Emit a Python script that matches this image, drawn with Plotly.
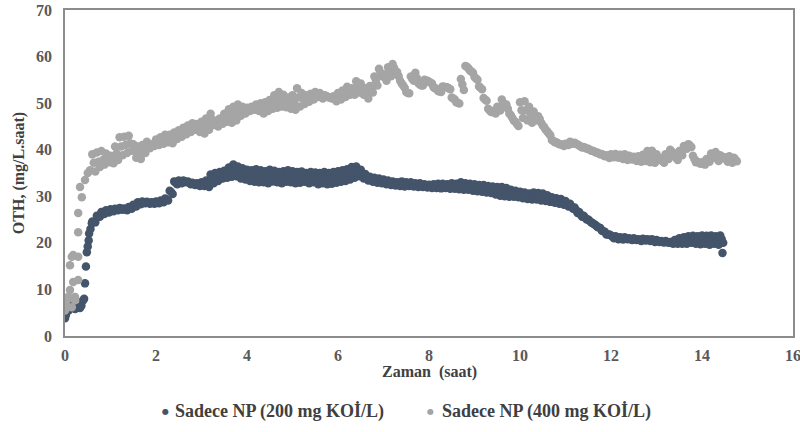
import numpy as np
import plotly.graph_objects as go

# ---------------- data ----------------
series_names = ["Sadece NP (200 mg KOİ/L)", "Sadece NP (400 mg KOİ/L)"]
colors = ["#44546A", "#A5A5A5"]

# Series 1 (200 mg) - early sparse points
s1_early_t = [0, 0.02, 0.04, 0.08, 0.12, 0.15, 0.18, 0.22, 0.26, 0.3, 0.33, 0.36, 0.4, 0.42,
              0.44, 0.46, 0.48, 0.5, 0.52, 0.53, 0.56, 0.59, 14.45]
s1_early_v = [3.8, 4.5, 6.2, 5.5, 7.5, 6.5, 7.0, 5.8, 6.0, 6.2, 6.0, 6.5, 7.7, 8.0,
              11.3, 14.9, 18.0, 19.2, 20.5, 22.0, 23.0, 24.2, 17.8]
# Series 1 main part, sampled every 0.1 h from 0.6 h: top, middle, bottom of the point cloud
s1_start = 0.6
s1_upper = [
    24.6, 25.8, 26.6, 27.0,
    27.2, 27.3, 27.5, 27.4, 27.7, 28.2, 28.7, 28.9, 28.8, 28.7,
    28.9, 29.1, 29.5, 31.2, 33.2, 33.4, 33.4, 33.2, 32.9, 32.8,
    33.0, 33.4, 34.7, 35.0, 35.2, 35.5, 36.2, 36.8, 36.4, 36.0,
    35.7, 35.6, 35.8, 35.6, 35.4, 35.7, 35.5, 35.2, 35.4, 35.6,
    35.4, 35.2, 35.3, 35.0, 35.2, 35.1, 35.0, 35.2, 35.0, 35.2,
    35.4, 35.6, 35.8, 36.3, 36.4, 35.7, 34.8, 34.2, 34.0, 33.8,
    33.6, 33.4, 33.2, 33.0, 33.2, 33.0, 33.0, 32.8, 32.8, 32.6,
    32.5, 32.6, 32.7, 32.7, 32.6, 32.8, 32.7, 33.0, 32.8, 32.7,
    32.6, 32.4, 32.4, 32.2, 32.1, 32.0, 32.0, 31.8, 31.4, 31.2,
    31.0, 30.8, 30.6, 30.8, 30.7, 30.6, 30.2, 29.8, 29.6, 29.4,
    29.0, 28.4, 27.6, 26.6, 25.8, 25.0, 24.2, 23.4, 22.6, 21.8,
    21.6, 21.4, 21.2, 21.2, 21.0, 21.0, 20.8, 20.9, 20.8, 20.8,
    20.6, 20.4, 20.4, 20.2, 20.6, 21.0, 21.2, 21.4, 21.5, 21.4,
    21.6, 21.5, 21.6, 21.4, 21.6,
]
s1_mid = [
    24.5, 25.7, 26.4, 26.8,
    27.0, 27.1, 27.3, 27.2, 27.5, 28.0, 28.5, 28.7, 28.6, 28.6,
    28.7, 28.9, 29.3, 30.9, 32.9, 33.1, 33.2, 32.9, 32.6, 32.5,
    32.6, 32.7, 33.7, 34.1, 34.5, 34.7, 35.2, 35.5, 35.1, 34.8,
    34.5, 34.4, 34.4, 34.3, 34.1, 34.4, 34.2, 34.0, 34.2, 34.3,
    34.1, 34.0, 34.2, 33.9, 34.1, 33.8, 33.9, 33.9, 33.8, 34.0,
    34.2, 34.4, 34.7, 35.1, 35.3, 34.7, 34.1, 33.6, 33.4, 33.3,
    33.1, 32.9, 32.7, 32.6, 32.6, 32.6, 32.5, 32.4, 32.4, 32.2,
    32.1, 32.2, 32.2, 32.2, 32.1, 32.2, 32.1, 32.2, 32.1, 32.0,
    31.9, 31.7, 31.6, 31.5, 31.3, 31.1, 31.0, 30.9, 30.7, 30.5,
    30.3, 30.1, 30.0, 30.0, 29.9, 29.8, 29.5, 29.2, 29.0, 28.8,
    28.4, 27.8, 27.0, 26.1, 25.4, 24.7, 24.0, 23.3, 22.5, 21.8,
    21.3, 21.1, 20.9, 21.0, 20.8, 20.8, 20.6, 20.7, 20.6, 20.5,
    20.4, 20.2, 20.2, 20.0, 20.2, 20.4, 20.5, 20.7, 20.6, 20.6,
    20.7, 20.6, 20.7, 20.5, 20.8,
]
s1_lower = [
    24.4, 25.6, 26.2, 26.5,
    26.8, 27.0, 27.1, 27.0, 27.3, 27.8, 28.3, 28.5, 28.4, 28.4,
    28.5, 28.7, 29.1, 30.5, 32.6, 32.8, 33.0, 32.6, 32.4, 32.2,
    32.2, 32.0, 32.8, 33.3, 33.8, 34.0, 34.2, 34.3, 33.8, 33.6,
    33.3, 33.1, 33.0, 33.0, 32.8, 33.2, 33.0, 32.8, 33.1, 33.0,
    32.8, 32.9, 33.1, 32.8, 33.0, 32.6, 32.8, 32.6, 32.7, 32.9,
    33.1, 33.3, 33.6, 34.0, 34.3, 33.8, 33.4, 33.1, 32.9, 32.8,
    32.6, 32.4, 32.3, 32.2, 32.1, 32.2, 32.1, 32.0, 32.0, 31.9,
    31.8, 31.8, 31.7, 31.8, 31.6, 31.6, 31.5, 31.4, 31.4, 31.2,
    31.1, 31.0, 30.8, 30.7, 30.4, 30.1, 30.0, 29.9, 29.9, 29.8,
    29.6, 29.4, 29.3, 29.3, 29.1, 29.0, 28.8, 28.6, 28.4, 28.2,
    27.8, 27.3, 26.4, 25.6, 25.0, 24.4, 23.8, 23.2, 22.4, 21.8,
    21.0, 20.8, 20.7, 20.8, 20.6, 20.6, 20.4, 20.5, 20.4, 20.2,
    20.2, 20.1, 20.0, 19.8, 19.8, 19.8, 19.8, 20.0, 19.8, 19.7,
    19.8, 19.6, 19.8, 19.6, 20.0,
]

# Series 2 (400 mg) - early sparse points
s2_early_t = [0, 0.02, 0.04, 0.04, 0.07, 0.11, 0.15, 0.22, 0.22, 0.18, 0.11, 0.15, 0.18, 0.29,
              0.29, 0.29, 0.29, 0.33, 0.37, 0.44, 0.5, 0.55]
s2_early_v = [5.5, 6.5, 7.7, 6.2, 8.4, 9.9, 6.2, 7.7, 8.4, 11.6, 15.2, 17.0, 17.4, 12.0,
              17.0, 22.3, 26.4, 32.0, 29.8, 33.5, 35.0, 35.6]
s2_start = 0.6
s2_upper = [
    39.0, 39.4, 39.7, 39.2,
    38.7, 40.7, 42.7, 42.8, 43.0, 41.2, 40.7, 41.0, 41.7, 41.2,
    42.2, 42.7, 43.2, 43.2, 43.7, 44.2, 44.7, 45.2, 45.7, 45.5,
    46.0, 46.7, 47.7, 46.2, 46.7, 47.7, 48.7, 49.2, 49.7, 49.2,
    49.0, 49.2, 49.7, 50.0, 50.2, 50.7, 51.7, 52.4, 51.8, 51.2,
    51.7, 53.2, 52.2, 51.7, 52.0, 52.4, 52.2, 51.7, 51.2, 51.5,
    52.2, 52.7, 53.5, 53.2, 54.7, 54.2, 53.2, 53.7, 55.7, 57.4,
    56.2, 57.7, 58.4, 56.7, 54.2, 52.4, 55.7, 56.5, 54.0, 55.0,
    54.6, 53.4, 52.6, 53.6, 53.4, 51.2, 50.2, 55.2, 58.0, 57.0,
    55.6, 53.6, 51.1, 48.8, 48.3, 49.2, 50.8, 49.7, 47.4, 46.0,
    50.2, 50.4, 49.2, 48.2, 47.2, 45.2, 43.9, 42.1, 41.6, 41.2,
    41.3, 41.7, 41.5, 40.9, 40.6, 40.2, 39.8, 39.4, 39.1, 38.8,
    39.0, 39.1, 38.9, 39.0, 38.7, 38.5, 38.6, 38.9, 39.7, 39.8,
    39.0, 38.2, 39.0, 40.0, 38.7, 39.7, 40.8, 41.2, 38.7, 37.4,
    37.3, 38.0, 39.2, 39.5, 38.8, 38.4, 38.6, 38.3,
]
s2_mid = [
    37.2, 37.4, 37.8, 37.9,
    37.9, 39.2, 40.7, 41.0, 41.4, 39.8, 39.4, 40.2, 41.0, 41.0,
    41.6, 42.0, 42.4, 42.3, 43.0, 43.5, 44.0, 44.5, 45.0, 44.7,
    44.8, 45.5, 46.5, 45.6, 46.2, 46.9, 47.3, 47.8, 48.5, 48.5,
    48.7, 48.9, 49.0, 48.9, 49.2, 49.7, 50.4, 50.9, 50.5, 50.0,
    50.2, 51.2, 51.0, 51.0, 51.4, 51.8, 51.6, 51.6, 51.2, 50.9,
    51.5, 52.0, 52.7, 52.5, 53.5, 53.0, 52.1, 53.0, 54.8, 56.6,
    55.5, 56.8, 57.6, 55.8, 53.8, 52.2, 55.2, 55.4, 53.8, 54.8,
    54.4, 53.2, 52.5, 53.5, 53.2, 51.0, 50.1, 54.0, 57.8, 56.8,
    55.3, 53.3, 50.8, 48.4, 48.0, 48.8, 50.0, 48.8, 46.8, 45.5,
    48.5, 48.5, 47.5, 47.4, 46.6, 44.8, 43.5, 41.9, 41.4, 41.0,
    41.2, 41.5, 41.3, 40.7, 40.4, 40.0, 39.6, 39.2, 38.8, 38.5,
    38.7, 38.7, 38.5, 38.4, 38.3, 38.0, 38.0, 38.3, 38.5, 38.5,
    38.4, 37.6, 38.5, 39.6, 38.2, 39.2, 40.5, 40.9, 38.0, 37.2,
    37.0, 37.7, 38.8, 38.5, 38.5, 37.9, 37.9, 37.9,
]
s2_lower = [
    35.3, 36.3, 36.8, 37.3,
    37.1, 37.8, 38.8, 39.3, 39.8, 38.3, 38.0, 39.3, 40.3, 40.8,
    41.0, 41.3, 41.6, 41.4, 42.3, 42.8, 43.3, 43.8, 44.3, 43.8,
    43.5, 44.3, 45.3, 45.0, 45.6, 46.0, 45.8, 46.3, 47.3, 47.8,
    48.3, 48.6, 48.3, 47.8, 48.3, 48.8, 49.0, 49.3, 49.1, 48.8,
    48.6, 49.3, 49.8, 50.3, 50.8, 51.3, 51.0, 51.4, 51.0, 50.4,
    50.8, 51.3, 51.8, 51.8, 52.3, 51.8, 51.0, 52.3, 53.8, 55.8,
    54.8, 55.8, 56.8, 54.8, 53.3, 52.1, 54.8, 54.3, 53.8, 54.8,
    54.2, 53.1, 52.4, 53.4, 53.0, 50.8, 49.9, 52.8, 57.5, 56.5,
    55.0, 53.0, 50.5, 48.1, 47.8, 48.4, 49.3, 47.8, 46.2, 45.1,
    46.8, 46.3, 45.8, 46.3, 45.8, 44.3, 43.1, 41.6, 41.2, 40.8,
    41.0, 41.3, 41.1, 40.5, 40.2, 39.8, 39.4, 39.0, 38.6, 38.2,
    38.4, 38.3, 38.0, 37.8, 37.9, 37.6, 37.4, 37.6, 37.3, 37.2,
    37.8, 37.2, 38.0, 39.2, 37.8, 38.8, 40.2, 40.6, 37.3, 37.0,
    36.8, 37.4, 38.3, 37.6, 38.2, 37.4, 37.2, 37.5,
]

assert len(s1_upper) == len(s1_mid) == len(s1_lower) == 139
assert len(s2_upper) == len(s2_mid) == len(s2_lower) == 142

x_ticks = [0, 2, 4, 6, 8, 10, 12, 14, 16]
y_ticks = [0, 10, 20, 30, 40, 50, 60, 70]


def build(early_t, early_v, start, upper, mid, lower):
    grid = np.round(start + 0.1 * np.arange(len(upper)), 2)
    t = list(early_t)
    v = list(early_v)
    for ti, u, m, l in zip(grid, upper, mid, lower):
        t += [ti, ti + 0.033, ti + 0.066]
        v += [u, m, l]
    return t, v


s1_t, s1_v = build(s1_early_t, s1_early_v, s1_start, s1_upper, s1_mid, s1_lower)
s2_t, s2_v = build(s2_early_t, s2_early_v, s2_start, s2_upper, s2_mid, s2_lower)

fig = go.Figure()
for (t, v), name, col in zip([(s1_t, s1_v), (s2_t, s2_v)], series_names, colors):
    fig.add_trace(go.Scatter(x=t, y=v, mode="markers", name=name, showlegend=False,
                             marker=dict(color=col, size=8.5, line=dict(width=0))))

font_family = "Liberation Serif"
tick_font = dict(family=font_family, size=16, color="#595959", weight="bold")
title_font = dict(family=font_family, size=16, color="#404040", weight="bold")
legend_font = dict(family=font_family, size=18, color="#404040", weight="bold")

# legend drawn as annotations (dot + label) beneath the chart
legend_items = []
legend_dot_x = [0.1374, 0.5027]
legend_txt_x = [0.1484, 0.5151]
for name, col, dx, tx in zip(series_names, colors, legend_dot_x, legend_txt_x):
    legend_items.append(dict(text="●", xref="paper", yref="paper", x=dx, y=-0.233,
                             xanchor="center", yanchor="middle", showarrow=False,
                             font=dict(family="DejaVu Sans", size=8, color=col)))
    legend_items.append(dict(text=name, xref="paper", yref="paper", x=tx, y=-0.233,
                             xanchor="left", yanchor="middle", showarrow=False,
                             font=legend_font))

fig.update_layout(
    width=800, height=432,
    margin=dict(l=65, r=7, t=10, b=96),
    paper_bgcolor="white", plot_bgcolor="white",
    font=dict(family=font_family, color="#404040"),
    showlegend=False,
    annotations=[
        dict(text="Zaman  (saat)", xref="paper", yref="paper", x=0.50, y=-0.11,
             xanchor="center", yanchor="middle", showarrow=False, font=title_font),
        dict(text="OTH, (mg/L.saat)", xref="paper", yref="paper", x=-0.063, y=0.5,
             xanchor="center", yanchor="middle", textangle=-90, showarrow=False,
             font=title_font),
    ] + legend_items,
)
fig.update_xaxes(range=[0, 16], tickvals=x_ticks, ticktext=[str(v) for v in x_ticks],
                 showgrid=False, zeroline=False, showline=True, linecolor="#8c8c8c", linewidth=1.5,
                 mirror=True, ticks="", tickfont=tick_font, automargin=False,
                 ticklabelstandoff=4, ticklabeloverflow="allow")
fig.update_yaxes(range=[0, 70], tickvals=y_ticks, ticktext=[str(v) for v in y_ticks],
                 showgrid=False, zeroline=False, showline=True, linecolor="#8c8c8c", linewidth=1.5,
                 mirror=True, ticks="", tickfont=tick_font, automargin=False,
                 ticklabelstandoff=8, ticklabeloverflow="allow")

fig.write_html("out.html")
